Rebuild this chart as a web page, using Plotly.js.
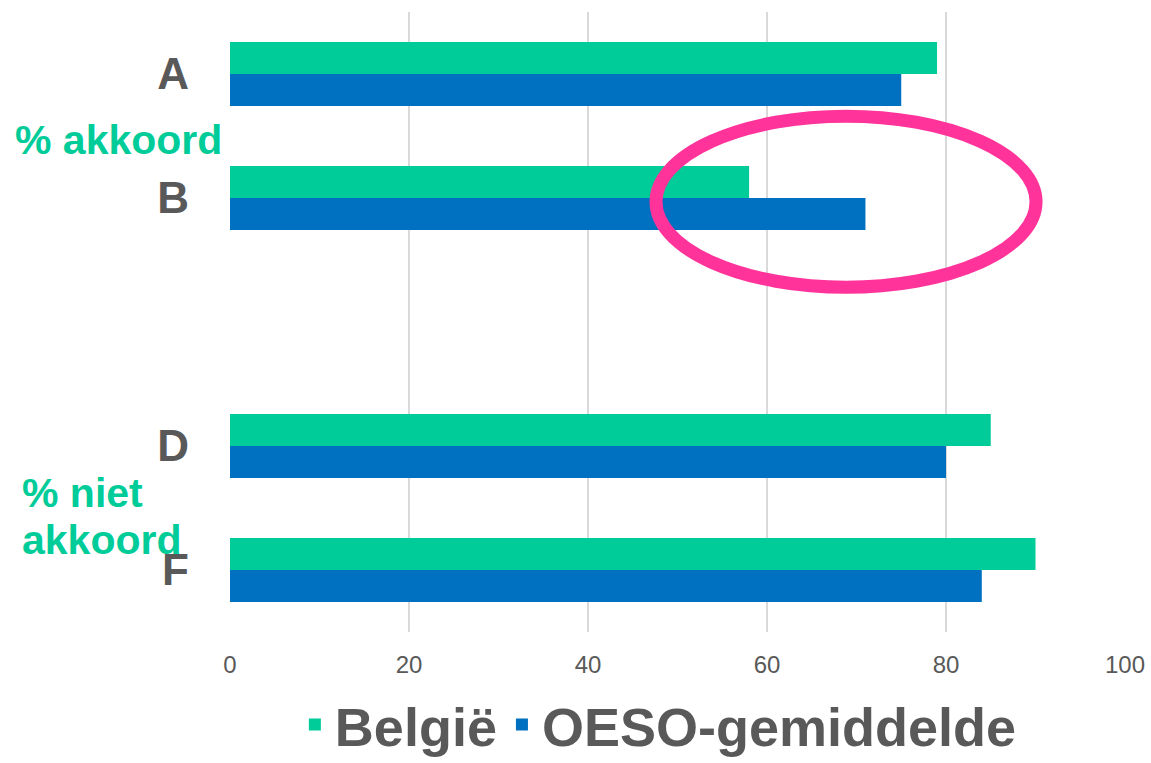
<!DOCTYPE html>
<html>
<head>
<meta charset="utf-8">
<script src="https://cdn.plot.ly/plotly-3.0.1.min.js"></script>
<style>
  html, body { margin: 0; padding: 0; background: #fff; }
  #myDiv { width: 1151px; height: 763px; }
</style>
</head>
<body>
<div id="myDiv"></div>
<script>
var categories = ['A', 'B', 'C', 'D', 'F'];
var tickLabels = ['A', 'B', '', 'D', 'F'];
var belgie = [79, 58, null, 85, 90];
var oeso = [75, 71, null, 80, 84];

var trace1 = {
  type: 'bar',
  orientation: 'h',
  y: categories,
  x: belgie,
  name: 'België',
  marker: { color: '#00CC99' },
  hoverinfo: 'x+name'
};

var trace2 = {
  type: 'bar',
  orientation: 'h',
  y: categories,
  x: oeso,
  name: 'OESO-gemiddelde',
  marker: { color: '#0070C0' },
  hoverinfo: 'x+name'
};

var data = [trace1, trace2];

var green = '#00CC99';

var layout = {
  width: 1151,
  height: 763,
  margin: { l: 230, r: 26, t: 12, b: 131 },
  paper_bgcolor: '#fff',
  plot_bgcolor: '#fff',
  font: { family: 'Liberation Sans, Arial, sans-serif', color: '#595959' },
  barmode: 'group',
  bargap: 0.484,
  bargroupgap: 0,
  showlegend: true,
  xaxis: {
    range: [0, 100],
    autorange: false,
    dtick: 20,
    showgrid: true,
    gridcolor: '#d9d9d9',
    gridwidth: 1.5,
    zeroline: false,
    showline: false,
    ticks: '',
    automargin: false,
    ticklabelstandoff: 16,
    tickfont: { size: 24, color: '#595959' }
  },
  yaxis: {
    type: 'category',
    categoryorder: 'array',
    categoryarray: categories,
    tickvals: categories,
    ticktext: tickLabels,
    autorange: 'reversed',
    showgrid: false,
    zeroline: false,
    showline: false,
    ticks: '',
    automargin: false,
    ticklabelstandoff: 40,
    tickfont: { size: 44, color: '#595959', weight: 'bold' }
  },
  legend: {
    orientation: 'h',
    xref: 'container',
    yref: 'container',
    x: 0.572,
    xanchor: 'center',
    y: 0.05,
    yanchor: 'middle',
    font: { size: 54, color: '#595959', weight: 'bold' },
    itemwidth: 30
  },
  annotations: [
    {
      text: '% akkoord',
      xref: 'paper', yref: 'paper',
      x: -0.125, y: 0.7935,
      xanchor: 'center', yanchor: 'middle',
      showarrow: false,
      font: { size: 41, color: green, weight: 'bold' }
    },
    {
      text: '% niet',
      xref: 'paper', yref: 'paper',
      x: -0.2346, y: 0.224,
      xanchor: 'left', yanchor: 'middle',
      align: 'left',
      showarrow: false,
      font: { size: 41, color: green, weight: 'bold' }
    },
    {
      text: 'akkoord',
      xref: 'paper', yref: 'paper',
      x: -0.2346, y: 0.148,
      xanchor: 'left', yanchor: 'middle',
      align: 'left',
      showarrow: false,
      font: { size: 41, color: green, weight: 'bold' }
    }
  ],
  shapes: [
    {
      type: 'circle',
      xref: 'x', yref: 'paper',
      x0: 47.6, x1: 90.06,
      y0: 0.556, y1: 0.832,
      line: { color: '#FF3399', width: 13 }
    }
  ]
};

Plotly.newPlot('myDiv', data, layout, { displayModeBar: false });
</script>
</body>
</html>
